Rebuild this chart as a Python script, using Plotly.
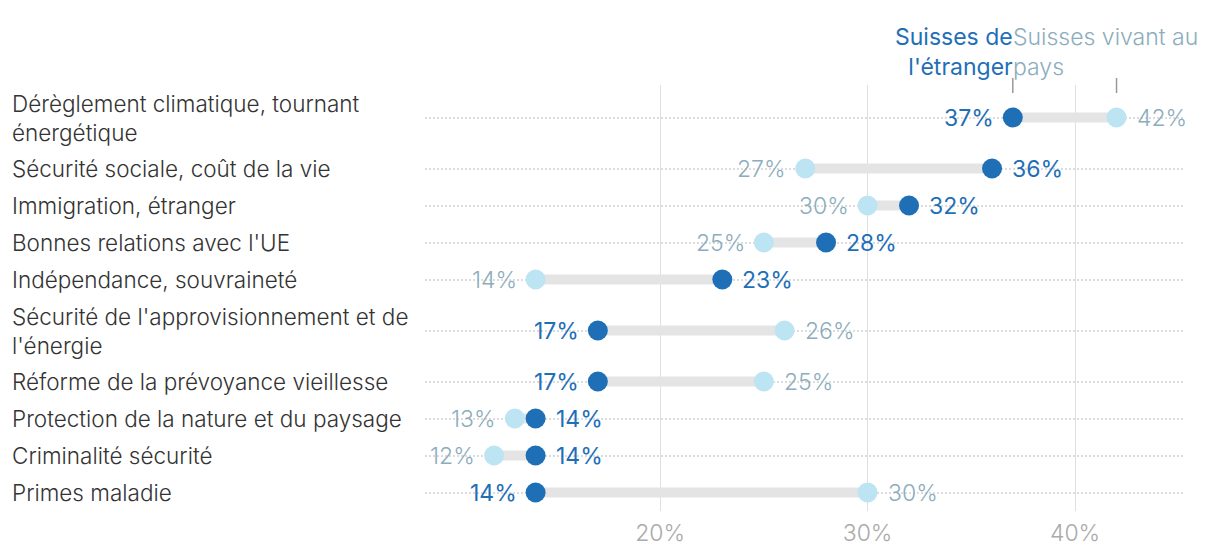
import plotly.graph_objects as go

categories = [
    "Dérèglement climatique, tournant<br>énergétique",
    "Sécurité sociale, coût de la vie",
    "Immigration, étranger",
    "Bonnes relations avec l'UE",
    "Indépendance, souvraineté",
    "Sécurité de l'approvisionnement et de<br>l'énergie",
    "Réforme de la prévoyance vieillesse",
    "Protection de la nature et du paysage",
    "Criminalité sécurité",
    "Primes maladie",
]
abroad = [37, 36, 32, 28, 23, 17, 17, 14, 14, 14]
home = [42, 27, 30, 25, 14, 26, 25, 13, 12, 30]
x_ticks = [20, 30, 40]
name_abroad = "Suisses de<br>l'étranger"
name_home = "Suisses vivant au<br>pays"

# geometry (layout, not data)
FONT = "Inter, Roboto, sans-serif"
FS_CAT = 22.5
FS_VAL = 23
LINE_H = 28
PAD = 9
W, H = 1220, 556
ML, MR, MT, MB = 425, 35, 85, 45
PW = W - ML - MR
PH = H - MT - MB

C_DARK = "#1f6fb7"
C_LIGHT = "#bde4f2"
C_LIGHT_TXT = "#8cadbd"
C_BAR = "#e4e4e4"
W_DARK = 420

heights = [LINE_H * (c.count("<br>") + 1) + PAD for c in categories]
centers = []
acc = 0
for h in heights:
    centers.append(acc + h / 2)
    acc += h
total = acc

fig = go.Figure()

lx, ly = [], []
for a, b, c in zip(abroad, home, centers):
    lx += [a, b, None]
    ly += [c, c, None]
fig.add_trace(go.Scatter(x=lx, y=ly, mode="lines",
                         line=dict(color=C_BAR, width=10),
                         hoverinfo="skip", showlegend=False))
fig.add_trace(go.Scatter(x=home, y=centers, mode="markers",
                         marker=dict(color=C_LIGHT, size=20),
                         name="Suisses vivant au pays", showlegend=False))
fig.add_trace(go.Scatter(x=abroad, y=centers, mode="markers",
                         marker=dict(color=C_DARK, size=20),
                         name="Suisses de l'étranger", showlegend=False))

ann = []
for cat, c in zip(categories, centers):
    ann.append(dict(text=cat, x=(10 - ML) / PW, xref="paper", y=c, yref="y",
                    xanchor="left", yanchor="middle", align="left",
                    showarrow=False,
                    font=dict(family=FONT, size=FS_CAT, color="#333333", weight=300)))

for a, b, c in zip(abroad, home, centers):
    right_dark = a >= b
    ann.append(dict(text=f"{a}%", x=a, y=c, xref="x", yref="y",
                    xanchor="left" if right_dark else "right",
                    xshift=18 if right_dark else -17, yanchor="middle",
                    showarrow=False,
                    font=dict(family=FONT, size=FS_VAL, color=C_DARK, weight=W_DARK)))
    ann.append(dict(text=f"{b}%", x=b, y=c, xref="x", yref="y",
                    xanchor="right" if right_dark else "left",
                    xshift=-17 if right_dark else 18, yanchor="middle",
                    showarrow=False,
                    font=dict(family=FONT, size=FS_VAL, color=C_LIGHT_TXT, weight=300)))

ann.append(dict(text=name_abroad, x=abroad[0], xref="x", y=1, yref="paper",
                xanchor="right", yanchor="bottom", align="right", yshift=2, xshift=2,
                showarrow=False, font=dict(family=FONT, size=FS_VAL, color=C_DARK, weight=W_DARK)))
ann.append(dict(text=name_home, x=abroad[0], xref="x", y=1, yref="paper",
                xanchor="left", yanchor="bottom", align="left", yshift=2, xshift=-2,
                showarrow=False, font=dict(family=FONT, size=FS_VAL, color=C_LIGHT_TXT, weight=300)))

shapes = []
for v in (abroad[0], home[0]):
    shapes.append(dict(type="line", xref="x", yref="paper", x0=v, x1=v,
                       y0=1 - 8 / PH, y1=1 + 7 / PH,
                       line=dict(color="#999999", width=1.5)))

fig.update_layout(
    width=W, height=H, autosize=False,
    margin=dict(l=ML, r=MR, t=MT, b=MB),
    paper_bgcolor="white", plot_bgcolor="white",
    annotations=ann, shapes=shapes,
    xaxis=dict(range=[8.67, 45.3], tickvals=x_ticks,
               ticktext=[f"{v}%" for v in x_ticks],
               showgrid=True, gridcolor="#e0e0e0", gridwidth=1.2,
               zeroline=False, showline=False, ticks="", ticklabelstandoff=6,
               automargin=False,
               tickfont=dict(family=FONT, size=FS_VAL, color="#aaaaaa", weight=300)),
    yaxis=dict(range=[total, 0], tickvals=centers, showticklabels=False,
               showgrid=True, gridcolor="#dcdcdc", griddash="2px,2px", gridwidth=2,
               zeroline=False, showline=False, ticks="", automargin=False),
    font=dict(family=FONT),
)

fig.write_html("out.html", config={"displayModeBar": False},
               post_script="document.body.style.margin='0';")
